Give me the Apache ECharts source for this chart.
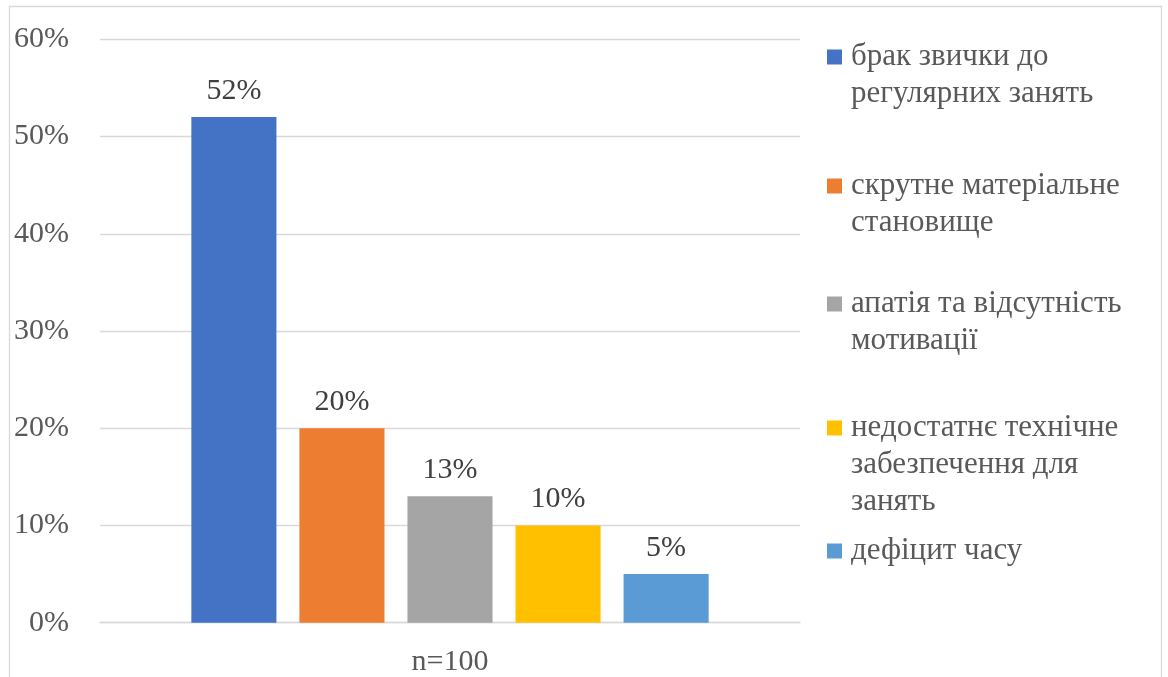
<!DOCTYPE html>
<html>
<head>
<meta charset="utf-8">
<script src="https://cdn.jsdelivr.net/npm/echarts@6/dist/echarts.min.js"></script>
<style>
html,body{margin:0;padding:0;background:#fff;}
#c{width:1168px;height:677px;}
</style>
</head>
<body>
<div id="c"></div>
<script>
var categories = ['n=100'];
var seriesNames = [
  'брак звички до\nрегулярних занять',
  'скрутне матеріальне\nстановище',
  'апатія та відсутність\nмотивації',
  'недостатнє технічне\nзабезпечення для\nзанять',
  'дефіцит часу'
];
var seriesValues = [52, 20, 13, 10, 5];
var seriesColors = ['#4472C4', '#ED7D31', '#A5A5A5', '#FFC000', '#5B9BD5'];
var yTicks = { min: 0, max: 60, interval: 10 };

var FONT = '"Liberation Serif", "Times New Roman", serif';
var FS = 30;
var LFS = 31;
var LH = 37;
var legendCenters = [57, 186, 304, 428, 551];

var chart = echarts.init(document.getElementById('c'), null, {renderer: 'canvas'});

var series = seriesNames.map(function (name, i) {
  return {
    name: name,
    type: 'bar',
    data: [seriesValues[i]],
    itemStyle: { color: seriesColors[i] },
    barGap: '27%',
    barCategoryGap: '26.1%',
    label: {
      show: true,
      position: 'top',
      distance: 11,
      formatter: '{c}%',
      color: '#404040',
      fontFamily: FONT,
      fontSize: FS
    }
  };
});

var legends = seriesNames.map(function (name, i) {
  var n = name.split('\n').length;
  var pre = '';
  for (var k = 1; k < n; k++) pre += '\n';
  return {
    data: [name],
    orient: 'vertical',
    left: 827,
    top: legendCenters[i] - (2 * n - 1) * LH / 2,
    padding: 0,
    itemWidth: 15,
    itemHeight: 15,
    icon: 'rect',
    selectedMode: false,
    formatter: function (nm) { return pre + nm; },
    textStyle: {
      color: '#595959',
      fontFamily: FONT,
      fontSize: LFS,
      lineHeight: LH,
      padding: [0, 0, 0, 4]
    }
  };
});

chart.setOption({
  animation: false,
  backgroundColor: '#fff',
  textStyle: { fontFamily: FONT },
  grid: { left: 100, right: 368, top: 39.3, bottom: 54.3, containLabel: false },
  legend: legends,
  xAxis: {
    type: 'category',
    data: categories,
    axisTick: { show: false },
    axisLine: { lineStyle: { color: '#d9d9d9', width: 1.3 } },
    axisLabel: { color: '#595959', fontFamily: FONT, fontSize: FS, margin: 24 }
  },
  yAxis: {
    type: 'value',
    min: yTicks.min,
    max: yTicks.max,
    interval: yTicks.interval,
    axisLine: { show: false },
    axisTick: { show: false },
    splitLine: { lineStyle: { color: '#d9d9d9', width: 1.3 } },
    axisLabel: { color: '#595959', fontFamily: FONT, fontSize: FS, margin: 31, formatter: '{value}%' }
  },
  graphic: [{
    type: 'rect',
    shape: { x: 9.5, y: 6.5, width: 1152, height: 700 },
    style: { fill: null, stroke: '#d9d9d9', lineWidth: 1.3 },
    silent: true,
    z: -1
  }],
  series: series
});
</script>
</body>
</html>
